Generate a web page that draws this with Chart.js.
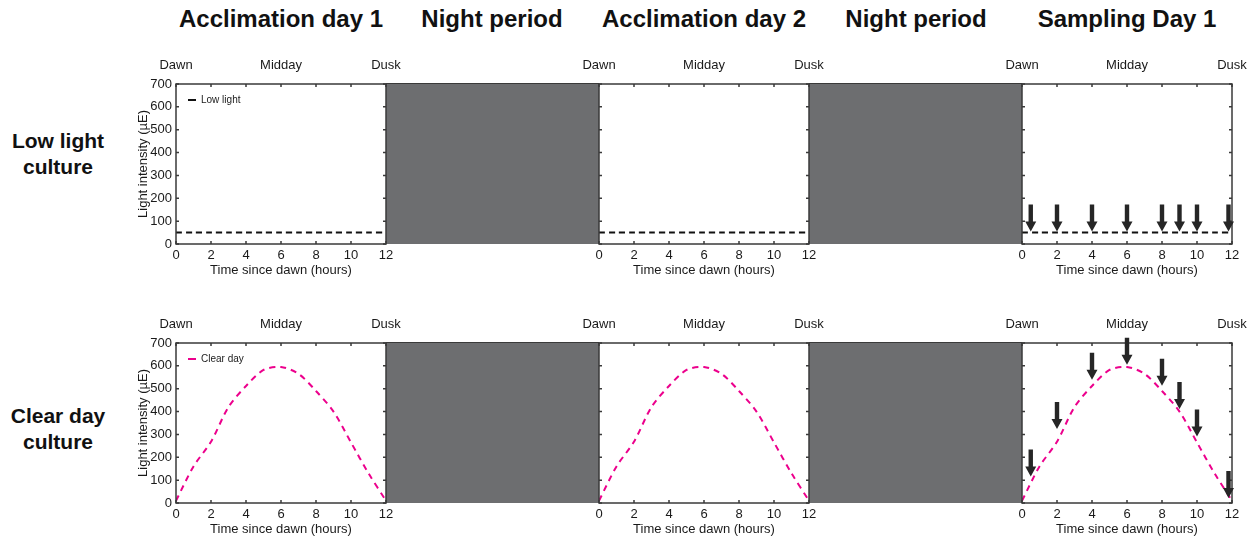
<!DOCTYPE html>
<html lang="en">
<head>
    <meta charset="utf-8" />
    <title>Light regimes for low light and clear day cultures</title>
    <script src="https://cdn.jsdelivr.net/npm/chart.js@4.4.0/dist/chart.umd.min.js"></script>
    <style>
        body {
            margin: 0;
            width: 1253px;
            height: 539px;
            position: relative;
            overflow: hidden;
            background: #fff;
            font-family: "Liberation Sans", Arial, sans-serif;
            color: #111;
        }
        .col-title {
            position: absolute;
            top: 5px;
            font-size: 24px;
            font-weight: bold;
            white-space: nowrap;
            transform: translateX(-50%);
        }
        .row-label {
            position: absolute;
            left: 58px;
            font-size: 21px;
            font-weight: bold;
            line-height: 26px;
            text-align: center;
            white-space: nowrap;
            transform: translate(-50%, -50%);
        }
        .night {
            position: absolute;
            background: #6d6e70;
            border-top: 1.5px solid #3a3a3a;
            box-sizing: border-box;
        }
        canvas {
            position: absolute;
        }
    </style>
    <script>
        //Hourly light profile for one day (µE).
        var hours = [0, 1, 2, 3, 4, 5, 6, 7, 8, 9, 10, 11, 12];
        var lowLight = [50, 50, 50, 50, 50, 50, 50, 50, 50, 50, 50, 50, 50];
        var clearDay = [10, 160, 268, 420, 512, 582, 595, 565, 490, 400, 265, 130, 10];

        //Sampling times on the sampling day and where each arrow points (µE).
        var sampleTimes = [0.5, 2, 4, 6, 8, 9, 10, 11.8];
        var arrowTipsLow = [55, 55, 55, 55, 55, 55, 55, 55];
        var arrowTipsClear = [116, 324, 539, 605, 513, 411, 291, 22];

        //Labels along the top axis.
        var dayMarkHours = [0, 6, 12];
        var dayMarkLabels = ['Dawn', 'Midday', 'Dusk'];

        var columnTitles = ['Acclimation day 1', 'Night period', 'Acclimation day 2', 'Night period', 'Sampling Day 1'];
        var rowLabels = [['Low light', 'culture'], ['Clear day', 'culture']];

        var FONT = '"Liberation Sans", Arial, sans-serif';
        var INK = '#1a1a1a';
        var FRAME = '#3a3a3a';

        //Box, inward ticks, small legend and sampling arrows.
        var framePlugin = {
            id: 'frame',
            afterDatasetsDraw: function (chart) {
                var ctx = chart.ctx, a = chart.chartArea;
                var x = chart.scales.x, y = chart.scales.y;
                var opts = chart.options.plugins.frame;
                ctx.save();

                ctx.strokeStyle = FRAME;
                ctx.lineWidth = 1.5;
                ctx.strokeRect(a.left, a.top, a.right - a.left, a.bottom - a.top);

                ctx.beginPath();
                x.ticks.forEach(function (t) {
                    var px = x.getPixelForValue(t.value);
                    ctx.moveTo(px, a.bottom); ctx.lineTo(px, a.bottom - 3);
                    ctx.moveTo(px, a.top); ctx.lineTo(px, a.top + 3);
                });
                y.ticks.forEach(function (t) {
                    var py = y.getPixelForValue(t.value);
                    ctx.moveTo(a.left, py); ctx.lineTo(a.left + 3, py);
                    ctx.moveTo(a.right, py); ctx.lineTo(a.right - 3, py);
                });
                ctx.stroke();

                //legend, first column only
                if (opts.legend) {
                    var ds = chart.data.datasets[0];
                    var ly = a.top + 16;
                    ctx.strokeStyle = ds.borderColor;
                    ctx.lineWidth = 2;
                    ctx.beginPath();
                    ctx.moveTo(a.left + 12, ly);
                    ctx.lineTo(a.left + 20, ly);
                    ctx.stroke();
                    ctx.fillStyle = INK;
                    ctx.font = '10px ' + FONT;
                    ctx.textBaseline = 'middle';
                    ctx.fillText(ds.label, a.left + 25, ly);
                }

                //sampling arrows
                if (opts.arrows) {
                    ctx.fillStyle = '#262626';
                    sampleTimes.forEach(function (t, i) {
                        var px = x.getPixelForValue(t);
                        var tip = y.getPixelForValue(opts.arrows[i]);
                        var top = tip - 27, neck = tip - 10;
                        ctx.beginPath();
                        ctx.moveTo(px - 2.2, top);
                        ctx.lineTo(px + 2.2, top);
                        ctx.lineTo(px + 2.2, neck);
                        ctx.lineTo(px + 5.5, neck);
                        ctx.lineTo(px, tip);
                        ctx.lineTo(px - 5.5, neck);
                        ctx.lineTo(px - 2.2, neck);
                        ctx.closePath();
                        ctx.fill();
                    });
                }
                ctx.restore();
            }
        };

        function makePanel(plotLeft, plotTop, firstCol, values, color, label, dash, arrows) {
            var canvas = document.createElement('canvas');
            canvas.width = 290;
            canvas.height = 245;
            canvas.style.left = (plotLeft - 50) + 'px';
            canvas.style.top = (plotTop - 40) + 'px';
            document.body.appendChild(canvas);

            var tickFont = { family: FONT, size: 13 };
            var hidden = { display: false, drawTicks: false };

            return new Chart(canvas.getContext('2d'), {
                type: 'line',
                data: {
                    datasets: [{
                        label: label,
                        data: hours.map(function (h, i) { return { x: h, y: values[i] }; }),
                        borderColor: color,
                        borderWidth: 2,
                        borderDash: dash,
                        pointRadius: 0,
                        tension: 0.3,
                        fill: false
                    }]
                },
                options: {
                    responsive: false,
                    animation: false,
                    devicePixelRatio: 1,
                    layout: { padding: 0 },
                    plugins: {
                        legend: { display: false },
                        tooltip: { enabled: false },
                        frame: { arrows: arrows, legend: firstCol }
                    },
                    scales: {
                        x: {
                            type: 'linear',
                            position: 'bottom',
                            min: 0,
                            max: 12,
                            ticks: { stepSize: 2, padding: 4, color: INK, font: tickFont, autoSkip: false, maxRotation: 0 },
                            grid: hidden,
                            border: { display: false },
                            title: {
                                display: true,
                                text: 'Time since dawn (hours)',
                                color: INK,
                                font: tickFont,
                                padding: { top: 0, bottom: 11 }
                            },
                            afterFit: function (s) { s.height = 45; }
                        },
                        xTop: {
                            type: 'linear',
                            position: 'top',
                            min: 0,
                            max: 12,
                            afterBuildTicks: function (s) {
                                s.ticks = dayMarkHours.map(function (h) { return { value: h }; });
                            },
                            ticks: {
                                padding: 11,
                                color: INK,
                                font: tickFont,
                                autoSkip: false,
                                maxRotation: 0,
                                callback: function (v) {
                                    var k = dayMarkHours.indexOf(v);
                                    return k < 0 ? '' : dayMarkLabels[k];
                                }
                            },
                            grid: hidden,
                            border: { display: false },
                            afterFit: function (s) { s.height = 40; }
                        },
                        y: {
                            min: 0,
                            max: 700,
                            ticks: { stepSize: 100, padding: 4, display: firstCol, color: INK, font: tickFont },
                            grid: hidden,
                            border: { display: false },
                            title: {
                                display: firstCol,
                                text: 'Light intensity (µE)',
                                color: INK,
                                font: tickFont,
                                padding: { top: 10, bottom: 0 }
                            },
                            afterFit: function (s) { s.width = 50; }
                        },
                        //empty right axis keeps the plot box the same width in every panel
                        yRight: {
                            position: 'right',
                            min: 0,
                            max: 700,
                            ticks: { display: false },
                            grid: hidden,
                            border: { display: false },
                            afterFit: function (s) { s.width = 30; }
                        }
                    }
                },
                plugins: [framePlugin]
            });
        }

        function build() {
            var plotLefts = [176, 599, 1022];
            var nightLefts = [386, 809];
            var rowTops = [84, 343];
            var rowLabelCenters = [154, 429];
            var titleCenters = [281, 492, 704, 916, 1127];

            columnTitles.forEach(function (t, i) {
                var d = document.createElement('div');
                d.className = 'col-title';
                d.style.left = titleCenters[i] + 'px';
                d.textContent = t;
                document.body.appendChild(d);
            });

            rowLabels.forEach(function (lines, r) {
                var d = document.createElement('div');
                d.className = 'row-label';
                d.style.top = rowLabelCenters[r] + 'px';
                d.innerHTML = lines.join('<br>');
                document.body.appendChild(d);

                nightLefts.forEach(function (nx) {
                    var n = document.createElement('div');
                    n.className = 'night';
                    n.style.left = nx + 'px';
                    n.style.top = (rowTops[r] - 0.75) + 'px';
                    n.style.width = '213px';
                    n.style.height = '161px';
                    document.body.appendChild(n);
                });
            });

            plotLefts.forEach(function (px, c) {
                var last = c === plotLefts.length - 1;
                makePanel(px, rowTops[0], c === 0, lowLight, '#111111', 'Low light', [6, 4], last ? arrowTipsLow : null);
                makePanel(px, rowTops[1], c === 0, clearDay, '#ec008c', 'Clear day', [6, 5], last ? arrowTipsClear : null);
            });
        }
    </script>
</head>
<body onload="build()">
</body>
</html>
